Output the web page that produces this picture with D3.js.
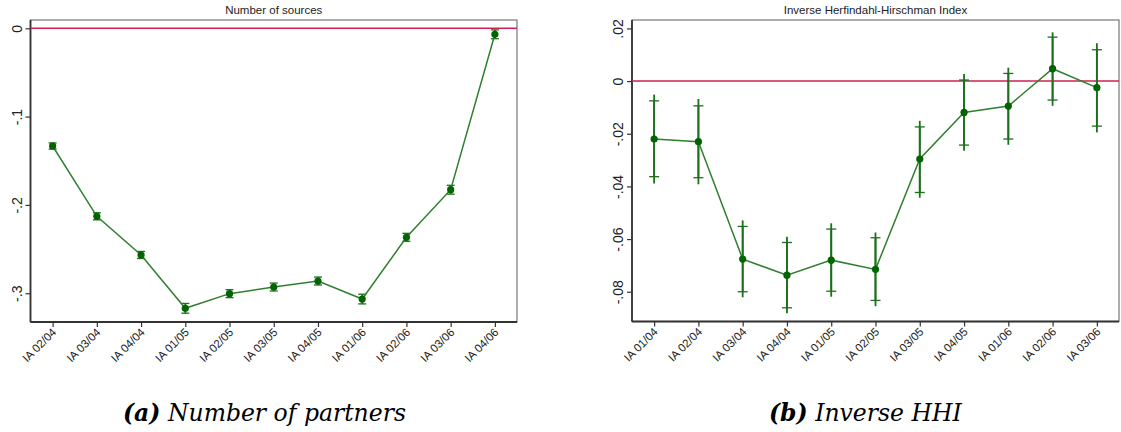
<!DOCTYPE html>
<html>
<head>
<meta charset="utf-8">
<script src="https://cdn.jsdelivr.net/npm/d3@7"></script>
<style>
  body { margin: 0; background: #fff; }
  svg { display: block; }
</style>
</head>
<body>
<div id="vis"></div>
<script>
// panel (a): number of sources
const catsA = ["IA 02/04","IA 03/04","IA 04/04","IA 01/05","IA 02/05","IA 03/05","IA 04/05","IA 01/06","IA 02/06","IA 03/06","IA 04/06"];
const valsA = [-0.1333,-0.2129,-0.2567,-0.3171,-0.3005,-0.2930,-0.2862,-0.3066,-0.2367,-0.1828,-0.0068];
const loA   = [-0.1368,-0.2169,-0.2607,-0.3226,-0.3050,-0.2975,-0.2907,-0.3121,-0.2412,-0.1878,-0.0118];
const hiA   = [-0.1298,-0.2089,-0.2527,-0.3116,-0.2960,-0.2885,-0.2817,-0.3011,-0.2322,-0.1778,-0.0018];
const ticksA = [0,-0.1,-0.2,-0.3];
const tickLabelsA = ["0","-.1","-.2","-.3"];

// panel (b): inverse HHI
const catsB = ["IA 01/04","IA 02/04","IA 03/04","IA 04/04","IA 01/05","IA 02/05","IA 03/05","IA 04/05","IA 01/06","IA 02/06","IA 03/06"];
const valsB  = [-0.0220,-0.0230,-0.0676,-0.0737,-0.0680,-0.0715,-0.0296,-0.0119,-0.0095, 0.0047,-0.0025];
const lo90B  = [-0.0363,-0.0367,-0.0800,-0.0861,-0.0798,-0.0833,-0.0423,-0.0243,-0.0220,-0.0072,-0.0171];
const hi90B  = [-0.0075,-0.0094,-0.0552,-0.0613,-0.0562,-0.0595,-0.0174, 0.0004, 0.0029, 0.0167, 0.0119];
const lo95B  = [-0.0389,-0.0392,-0.0821,-0.0882,-0.0819,-0.0855,-0.0443,-0.0265,-0.0242,-0.0094,-0.0195];
const hi95B  = [-0.0051,-0.0068,-0.0529,-0.0591,-0.0540,-0.0575,-0.0151, 0.0027, 0.0051, 0.0185, 0.0144];
const ticksB = [0.02,0,-0.02,-0.04,-0.06,-0.08];
const tickLabelsB = [".02","0","-.02","-.04","-.06","-.08"];

const W = 1121, H = 432;
const svg = d3.select("#vis").append("svg").attr("width", W).attr("height", H);

const lineColor = "#2f7f2f";
const markColor = "#006400";
const barColor = "#1d6f1d";
const refColor = "#d1204f";
const sans = "Liberation Sans, Arial, sans-serif";

function panel(opt) {
  const g = svg.append("g");
  const x = d3.scalePoint().domain(opt.cats).range([opt.left, opt.right]).padding(0.5);
  const y = d3.scaleLinear().domain(opt.ydom).range([opt.bottom, opt.top]);

  // title
  g.append("text")
    .attr("x", (opt.left + opt.right) / 2)
    .attr("y", 14)
    .attr("text-anchor", "middle")
    .attr("font-family", sans)
    .attr("font-size", 11.5)
    .attr("fill", "#222")
    .text(opt.title);

  // plot region outline
  g.append("rect")
    .attr("x", opt.left).attr("y", opt.top)
    .attr("width", opt.right - opt.left).attr("height", opt.bottom - opt.top)
    .attr("fill", "none").attr("stroke", "#777").attr("stroke-width", 1.2);

  // y axis
  const ya = g.append("g").attr("transform", `translate(${opt.left},0)`)
    .call(d3.axisLeft(y).tickValues(opt.ticks).tickSize(5).tickFormat((d, i) => opt.tickLabels[i]));
  ya.select(".domain").attr("stroke", "#333").attr("stroke-width", 1.8)
    .attr("d", `M0,${opt.top}V${opt.bottom}`);
  ya.selectAll(".tick line").attr("stroke", "#333").attr("stroke-width", 1.2);
  ya.selectAll(".tick text")
    .attr("font-family", sans)
    .attr("font-size", 14).attr("fill", "#222")
    .attr("transform", "rotate(-90)")
    .attr("text-anchor", "middle")
    .attr("x", 0).attr("y", -9).attr("dy", 0);

  // x axis
  const xa = g.append("g").attr("transform", `translate(0,${opt.bottom})`)
    .call(d3.axisBottom(x).tickSize(5));
  xa.select(".domain").attr("stroke", "#333").attr("stroke-width", 1.8)
    .attr("d", `M${opt.left},0H${opt.right}`);
  xa.selectAll(".tick line").attr("stroke", "#333").attr("stroke-width", 1.2);
  xa.selectAll(".tick text")
    .attr("font-family", sans)
    .attr("font-size", 11.5).attr("fill", "#222")
    .attr("text-anchor", "end")
    .attr("y", 0).attr("dy", 0)
    .attr("transform", "translate(4,11) rotate(-45)");

  // zero reference line
  g.append("line")
    .attr("x1", opt.left).attr("x2", opt.right)
    .attr("y1", y(0)).attr("y2", y(0))
    .attr("stroke", refColor).attr("stroke-width", 1.5);

  const pts = opt.cats.map((c, i) => ({ c: c, v: opt.vals[i], i: i }));

  // outer interval lines (no caps)
  if (opt.lo2) {
    g.append("g").selectAll("line").data(pts).enter().append("line")
      .attr("x1", d => x(d.c)).attr("x2", d => x(d.c))
      .attr("y1", d => y(opt.lo2[d.i])).attr("y2", d => y(opt.hi2[d.i]))
      .attr("stroke", barColor).attr("stroke-width", 1.8);
  }

  // capped interval
  const eb = g.append("g");
  eb.selectAll("line.v").data(pts).enter().append("line").attr("class", "v")
    .attr("x1", d => x(d.c)).attr("x2", d => x(d.c))
    .attr("y1", d => y(opt.lo[d.i])).attr("y2", d => y(opt.hi[d.i]))
    .attr("stroke", barColor).attr("stroke-width", 1.8);
  [opt.lo, opt.hi].forEach(arr => {
    eb.append("g").selectAll("line").data(pts).enter().append("line")
      .attr("x1", d => x(d.c) - opt.cap).attr("x2", d => x(d.c) + opt.cap)
      .attr("y1", d => y(arr[d.i])).attr("y2", d => y(arr[d.i]))
      .attr("stroke", barColor).attr("stroke-width", 1.3);
  });

  // connecting line
  g.append("path").datum(pts)
    .attr("fill", "none").attr("stroke", lineColor).attr("stroke-width", 1.5)
    .attr("d", d3.line().x(d => x(d.c)).y(d => y(d.v)));

  // markers
  g.append("g").selectAll("circle").data(pts).enter().append("circle")
    .attr("cx", d => x(d.c)).attr("cy", d => y(d.v))
    .attr("r", 3.6).attr("fill", markColor);

  // caption
  const cap = svg.append("text")
    .attr("x", opt.capX).attr("y", 421)
    .attr("font-family", "DejaVu Serif, Liberation Serif, serif")
    .attr("font-style", "italic")
    .attr("font-size", 23.5)
    .attr("fill", "#000");
  cap.append("tspan").attr("font-weight", "bold").text(opt.capTag);
  cap.append("tspan").text(" " + opt.capText);
}

panel({
  cats: catsA, vals: valsA, lo: loA, hi: hiA,
  ticks: ticksA, tickLabels: tickLabelsA,
  title: "Number of sources",
  left: 30.5, right: 517, top: 20, bottom: 322,
  ydom: [-0.3326, 0.0094], cap: 4,
  capX: 123, capTag: "(a)", capText: "Number of partners"
});

panel({
  cats: catsB, vals: valsB, lo: lo90B, hi: hi90B, lo2: lo95B, hi2: hi95B,
  ticks: ticksB, tickLabels: tickLabelsB,
  title: "Inverse Herfindahl-Hirschman Index",
  left: 632, right: 1119, top: 20, bottom: 321.5,
  ydom: [-0.0913, 0.0232], cap: 5,
  capX: 769, capTag: "(b)", capText: "Inverse HHI"
});
</script>
</body>
</html>
